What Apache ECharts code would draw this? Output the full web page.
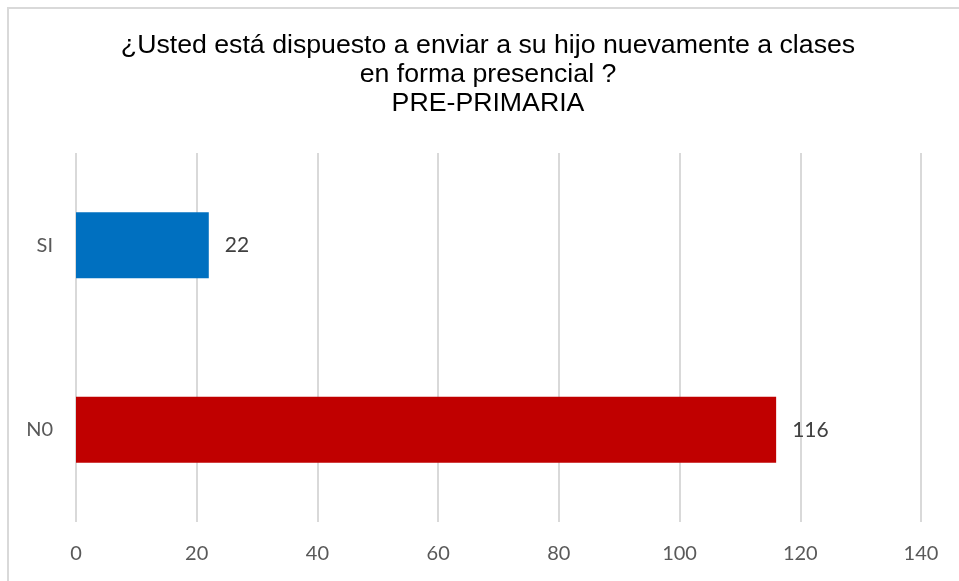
<!DOCTYPE html>
<html>
<head>
<meta charset="utf-8">
<script src="https://cdn.jsdelivr.net/npm/echarts@6/dist/echarts.min.js"></script>
<style>
  html, body { margin: 0; padding: 0; background: #fff; }
  #chart { width: 959px; height: 581px; }
</style>
</head>
<body>
<div id="chart"></div>
<script>
// datos
const categories = ['N0', 'SI']
const values = [116, 22]
const barColors = ['#C00000', '#0070C0']
const xTicks = { min: 0, max: 140, interval: 20 }

const chart = echarts.init(document.getElementById('chart'))

const option = {
  animation: false,
  title: {
    text: '¿Usted está dispuesto a enviar a su hijo nuevamente a clases\nen forma presencial ?\nPRE-PRIMARIA',
    left: 488,
    top: 31,
    padding: 0,
    textAlign: 'center',
    textStyle: {
      fontFamily: 'Liberation Sans, Arial, sans-serif',
      fontSize: 26.7,
      lineHeight: 29,
      fontWeight: 'normal',
      color: '#000'
    }
  },
  graphic: [{
    type: 'rect',
    shape: { x: 8, y: 8, width: 1000, height: 1000 },
    style: { fill: 'none', stroke: '#d9d9d9', lineWidth: 2 },
    silent: true
  }],
  grid: {
    left: 76,
    right: 38,
    top: 153,
    bottom: 59,
    containLabel: false
  },
  xAxis: {
    type: 'value',
    min: xTicks.min,
    max: xTicks.max,
    interval: xTicks.interval,
    axisLine: { show: false },
    axisTick: { show: false },
    axisLabel: {
      margin: 22,
      fontFamily: 'Lato, sans-serif',
      fontSize: 20,
      color: '#595959'
    },
    splitLine: { lineStyle: { color: '#d9d9d9', width: 2 } }
  },
  yAxis: {
    type: 'category',
    data: categories,
    axisLine: { show: false },
    axisTick: { show: false },
    axisLabel: {
      margin: 23,
      fontFamily: 'Lato, sans-serif',
      fontSize: 20,
      color: '#595959'
    }
  },
  series: [{
    type: 'bar',
    barWidth: '35.8%',
    data: values.map((v, i) => ({ value: v, itemStyle: { color: barColors[i] } })),
    label: {
      show: true,
      position: 'right',
      distance: 16,
      fontFamily: 'Lato, sans-serif',
      fontSize: 21,
      color: '#404040'
    }
  }]
}

chart.setOption(option)
</script>
</body>
</html>
